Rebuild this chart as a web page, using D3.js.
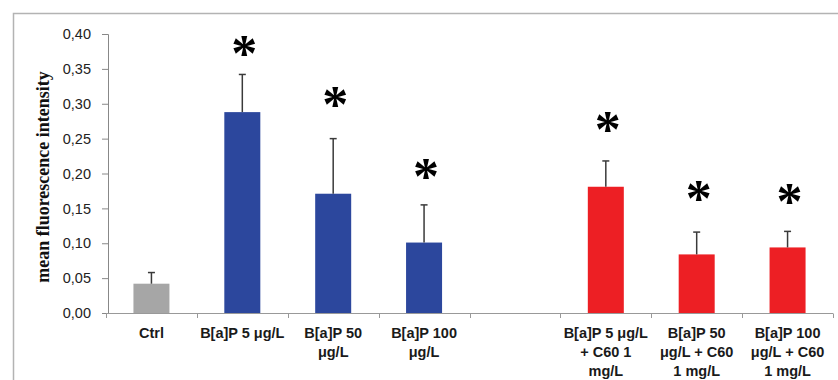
<!DOCTYPE html>
<html>
<head>
<meta charset="utf-8">
<script src="https://cdn.jsdelivr.net/npm/d3@7"></script>
<style>
  body { margin: 0; background: #fff; }
  svg text { font-family: "Liberation Sans", Arial, sans-serif; }
</style>
</head>
<body>
<svg id="chart" width="838" height="380"></svg>
<script>
var categories = [
    ["Ctrl"],
    ["B[a]P 5 μg/L"],
    ["B[a]P 50", "μg/L"],
    ["B[a]P 100", "μg/L"],
    [""],
    ["B[a]P 5 μg/L", "+ C60 1", "mg/L"],
    ["B[a]P 50", "μg/L + C60", "1 mg/L"],
    ["B[a]P 100", "μg/L + C60", "1 mg/L"]
];
var means = [0.042, 0.288, 0.171, 0.101, null, 0.181, 0.084, 0.094];
var errors = [0.016, 0.054, 0.079, 0.054, null, 0.037, 0.032, 0.023];
var groups = ["ctrl", "bap", "bap", "bap", null, "c60", "c60", "c60"];
var starLevels = [null, 0.382, 0.308, 0.205, null, 0.272, 0.174, 0.169];
var yTicks = [0, 0.05, 0.10, 0.15, 0.20, 0.25, 0.30, 0.35, 0.40];

var colors = {ctrl: "#a6a6a6", bap: "#2c479d", c60: "#ed1f24"};

var svg = d3.select("#chart");

// outer frame
svg.append("path")
    .attr("d", "M13.5,380 V13.5 H838")
    .attr("fill", "none")
    .attr("stroke", "#b3b3b3")
    .attr("stroke-width", 1.5);

var x = d3.scaleBand()
    .domain(d3.range(categories.length))
    .range([106, 833])
    .paddingInner(0)
    .paddingOuter(0);

var y = d3.scaleLinear()
    .domain([0, 0.4])
    .range([313, 34]);

var yAxis = svg.append("g")
    .attr("transform", "translate(108,0)")
    .call(d3.axisLeft(y).tickValues(yTicks).tickSize(6).tickPadding(11)
        .tickFormat(function(d) { return d3.format(".2f")(d).replace(".", ","); }));
yAxis.select(".domain").attr("stroke", "#888");
yAxis.selectAll(".tick line").attr("stroke", "#888");
yAxis.selectAll(".tick text").attr("font-size", 14.5).attr("fill", "#222")
    .style("font-family", "Liberation Sans, Arial, sans-serif");

svg.append("text")
    .attr("transform", "translate(49,177) rotate(-90)")
    .attr("text-anchor", "middle")
    .style("font-family", "Liberation Serif, Times New Roman, serif")
    .attr("font-weight", "bold")
    .attr("font-size", 18)
    .attr("fill", "#111")
    .text("mean fluorescence intensity");

// x axis line with boundary ticks
svg.append("line")
    .attr("x1", 106).attr("x2", 833)
    .attr("y1", 313.5).attr("y2", 313.5)
    .attr("stroke", "#999").attr("stroke-width", 1);
svg.selectAll(".xtick")
    .data(d3.range(categories.length + 1))
    .enter().append("line")
    .attr("class", "xtick")
    .attr("x1", function(i) { return Math.round(106 + i * x.bandwidth()) + 0.5; })
    .attr("x2", function(i) { return Math.round(106 + i * x.bandwidth()) + 0.5; })
    .attr("y1", 313.5).attr("y2", 318)
    .attr("stroke", "#999");

var barW = 36;
var idx = d3.range(categories.length).filter(function(i) { return means[i] != null; });

svg.selectAll(".bar")
    .data(idx)
    .enter().append("rect")
    .attr("class", "bar")
    .attr("x", function(i) { return x(i) + x.bandwidth() / 2 - barW / 2; })
    .attr("y", function(i) { return y(means[i]); })
    .attr("width", barW)
    .attr("height", function(i) { return y(0) - y(means[i]); })
    .attr("fill", function(i) { return colors[groups[i]]; });

// error bars (upper only)
var err = svg.selectAll(".err")
    .data(idx)
    .enter().append("g")
    .attr("class", "err")
    .attr("stroke", "#3a3a3a")
    .attr("stroke-width", 1.5);
err.append("line")
    .attr("x1", function(i) { return x(i) + x.bandwidth() / 2; })
    .attr("x2", function(i) { return x(i) + x.bandwidth() / 2; })
    .attr("y1", function(i) { return y(means[i]); })
    .attr("y2", function(i) { return y(means[i] + errors[i]); });
err.append("line")
    .attr("x1", function(i) { return x(i) + x.bandwidth() / 2 - 3.5; })
    .attr("x2", function(i) { return x(i) + x.bandwidth() / 2 + 3.5; })
    .attr("y1", function(i) { return y(means[i] + errors[i]); })
    .attr("y2", function(i) { return y(means[i] + errors[i]); });

// significance stars
svg.selectAll(".star")
    .data(idx.filter(function(i) { return starLevels[i] != null; }))
    .enter().append("text")
    .attr("class", "star")
    .attr("x", function(i) { return x(i) + x.bandwidth() / 2 + 2; })
    .attr("y", function(i) { return y(starLevels[i]) + 24; })
    .attr("text-anchor", "middle")
    .style("font-family", "Liberation Serif, Times New Roman, serif")
    .attr("font-weight", "bold")
    .attr("font-size", 52)
    .attr("fill", "#000")
    .text("*");

// category labels
var labels = svg.selectAll(".xlab")
    .data(d3.range(categories.length))
    .enter().append("text")
    .attr("class", "xlab")
    .attr("text-anchor", "middle")
    .attr("font-weight", "bold")
    .attr("font-size", 14.5)
    .attr("fill", "#1a1a1a");
labels.selectAll("tspan")
    .data(function(i) { return categories[i].map(function(t) { return {t: t, i: i}; }); })
    .enter().append("tspan")
    .attr("x", function(d) { return x(d.i) + x.bandwidth() / 2; })
    .attr("y", function(d, j) { return 338 + j * 19; })
    .text(function(d) { return d.t; });
</script>
</body>
</html>
